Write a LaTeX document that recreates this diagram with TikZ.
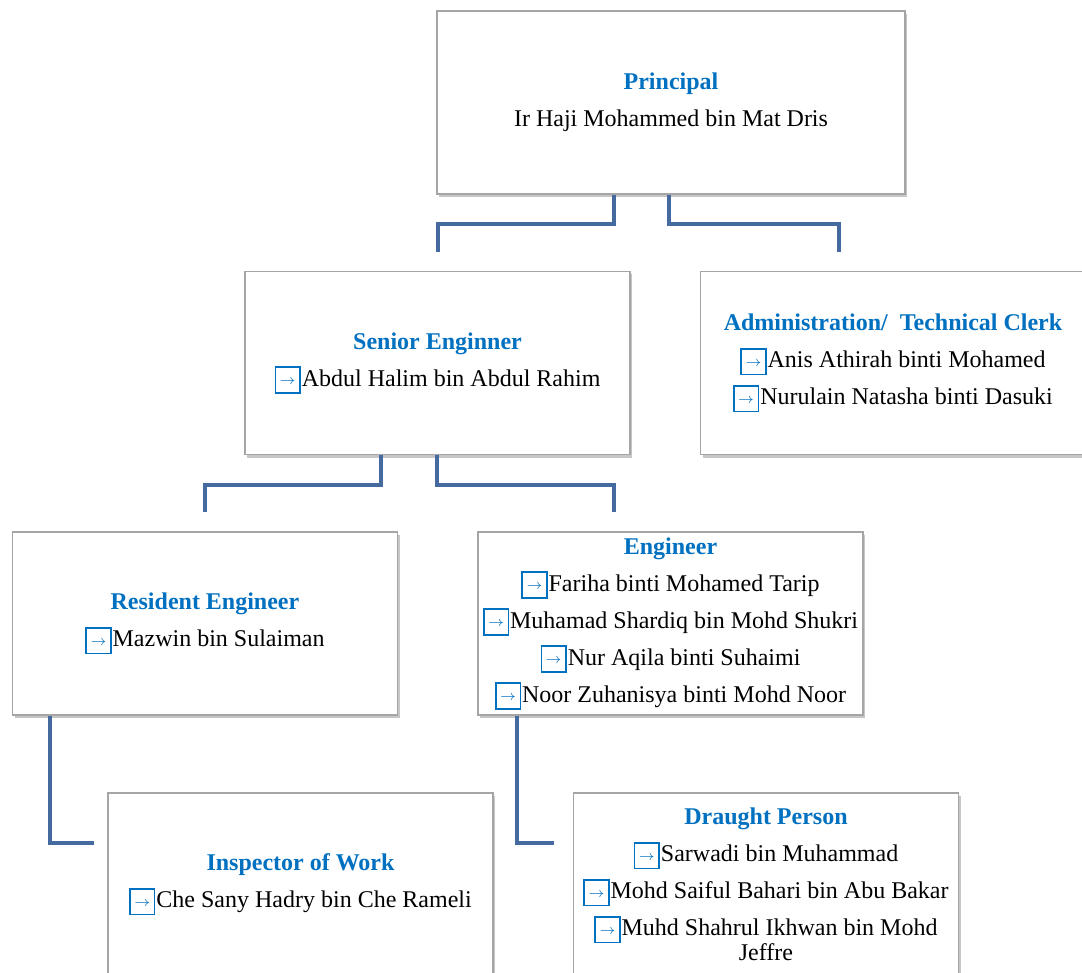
\documentclass[tikz,border=0pt]{standalone}
\usepackage{fontspec}
\setmainfont{Liberation Serif}
\usetikzlibrary{shadows}
\definecolor{roleblue}{RGB}{0,112,192}
\definecolor{linkblue}{RGB}{68,106,160}
\definecolor{boxgray}{RGB}{165,165,165}
\newcommand{\role}[1]{{\bfseries\color{roleblue}#1}}
\newcommand{\entry}{\raisebox{-3pt}{\setlength{\fboxsep}{0pt}\setlength{\fboxrule}{0.8pt}%
  \fcolorbox{roleblue}{white}{\makebox[11.5pt]{\rule{0pt}{12pt}\raisebox{3.6pt}{\color{roleblue}\scriptsize$\rightarrow$}}}}\kern0.5pt}

\begin{document}
\begin{tikzpicture}[x=0.5pt, y=-0.5pt,
  post/.style={draw=boxgray, line width=0.6pt, fill=white,
    drop shadow={shadow xshift=1pt, shadow yshift=-1.5pt, opacity=0.45},
    minimum width=192.5pt, minimum height=91.5pt, inner sep=0pt, align=center,
    font=\fontsize{12}{18.5}\selectfont},
  link/.style={draw=linkblue, line width=2pt}]
  \useasboundingbox (0,0) rectangle (1082,973);
  \node[post, minimum width=234pt] (principal) at (671,102.5) {\role{Principal}\\Ir Haji Mohammed bin Mat Dris};
  \node[post] (senior) at (437.5,363) {\role{Senior Enginner}\\\entry Abdul Halim bin Abdul Rahim};
  \node[post] (admin) at (893,363) {\role{Administration/~ Technical Clerk}\\\entry Anis Athirah binti Mohamed\\\entry Nurulain Natasha binti Dasuki};
  \node[post] (resident) at (205,623.5) {\role{Resident Engineer}\\\entry Mazwin bin Sulaiman};
  \node[post] (engineer) at (670.5,623.5) {\role{Engineer}\\\entry Fariha binti Mohamed Tarip\\\entry Muhamad Shardiq bin Mohd Shukri\\\entry Nur Aqila binti Suhaimi\\\entry Noor Zuhanisya binti Mohd Noor};
  \node[post] (inspector) at (300.5,884.5) {\role{Inspector of Work}\\\entry Che Sany Hadry bin Che Rameli};
  \node[post] (draught) at (766,884.5) {\role{Draught Person}\\\entry Sarwadi bin Muhammad\\\entry Mohd Saiful Bahari bin Abu Bakar\\\entry Muhd Shahrul Ikhwan bin Mohd\\[-6pt]Jeffre};
  \draw[link] ([xshift=-28.5pt]principal.south) -- ++(0,29) -| ([yshift=9.5pt]senior.north);
  \draw[link] ([xshift=-1pt]principal.south) -- ++(0,29) -| ([xshift=-27pt,yshift=9.5pt]admin.north);
  \draw[link] ([xshift=-28.25pt]senior.south) -- ++(0,30) -| ([yshift=9.5pt]resident.north);
  \draw[link] ([xshift=-0.25pt]senior.south) -- ++(0,30) -| ([xshift=-28.25pt,yshift=9.5pt]engineer.north);
  \draw[link] ([xshift=-77.5pt]resident.south) |- ([xshift=-6.5pt,yshift=20.75pt]inspector.west);
  \draw[link] ([xshift=-76.75pt]engineer.south) |- ([xshift=-9.5pt,yshift=20.75pt]draught.west);
\end{tikzpicture}
\end{document}
